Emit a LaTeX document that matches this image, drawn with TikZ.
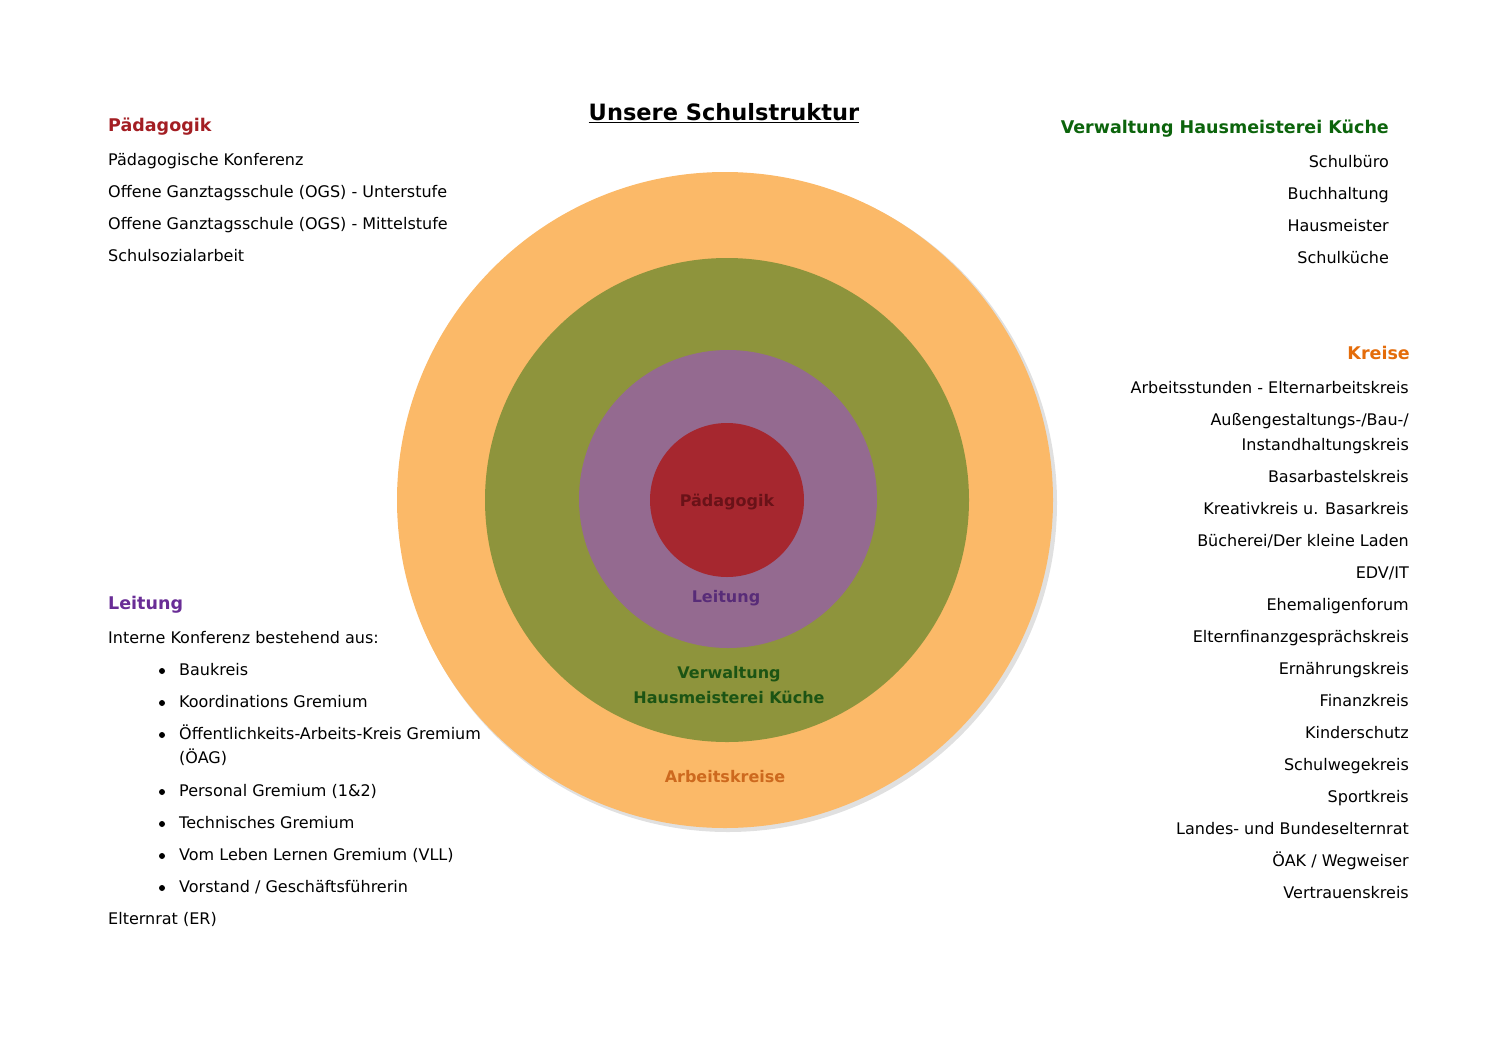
\documentclass[tikz,border=0pt]{standalone}
\usepackage{fontspec}
\setmainfont{DejaVu Sans}
\definecolor{ringorange}{RGB}{251,185,104}
\definecolor{ringgreen}{RGB}{142,148,60}
\definecolor{ringpurple}{RGB}{148,106,144}
\definecolor{ringred}{RGB}{166,39,47}
\definecolor{headred}{RGB}{163,30,35}
\definecolor{headgreen}{RGB}{12,100,12}
\definecolor{headorange}{RGB}{228,108,10}
\definecolor{headpurple}{RGB}{105,45,150}
\definecolor{lblred}{RGB}{105,18,24}
\definecolor{lblpurple}{RGB}{88,44,120}
\definecolor{lblgreen}{RGB}{28,84,20}
\definecolor{lblorange}{RGB}{205,105,30}
\tikzset{
  item/.style={font=\fontsize{16}{19}\selectfont,inner sep=0pt,text height=15pt,text depth=2pt},
  head/.style={font=\fontsize{17.5}{21}\selectfont\bfseries,inner sep=0pt,text height=15pt,text depth=2pt},
  ringlabel/.style={font=\fontsize{16}{25}\selectfont\bfseries,align=center,inner sep=0pt}
}
\begin{document}
\begin{tikzpicture}[x=1pt,y=-1pt]
\useasboundingbox (0,0) rectangle (1497,1058);
\fill[black!12] (728,503) circle (329);
\fill[ringorange] (725,500) circle (328);
\fill[ringgreen] (727,500) circle (242);
\fill[ringpurple] (728,499) circle (149);
\fill[ringred] (727,500) circle (77);
\node[ringlabel,text=lblred] (rpaed) at (727,502) {Pädagogik};
\node[ringlabel,text=lblpurple] (rleit) at (726,598) {Leitung};
\node[ringlabel,text=lblgreen] (rverw) at (729,685) {Verwaltung\\Hausmeisterei Küche};
\node[ringlabel,text=lblorange] (rkreis) at (725,777) {Arbeitskreise};
\node[font=\fontsize{22.5}{27}\selectfont\bfseries,inner sep=0pt] (titel) at (724,113) {\underline{Unsere Schulstruktur}};
\node[head,anchor=west,text=headred] (hpaed) at (108,125) {Pädagogik};
\foreach \t [count=\i] in {Pädagogische Konferenz,Offene Ganztagsschule (OGS) - Unterstufe,Offene Ganztagsschule (OGS) - Mittelstufe,Schulsozialarbeit}
\node[item,anchor=west] (paed\i) at (108,127+32*\i) {\t};
\node[head,anchor=east,text=headgreen] (hverw) at (1389,127) {Verwaltung Hausmeisterei Küche};
\foreach \t [count=\i] in {Schulbüro,Buchhaltung,Hausmeister,Schulküche}
\node[item,anchor=east] (verw\i) at (1389,129+32*\i) {\t};
\node[head,anchor=east,text=headorange] (hkreis) at (1410,353) {Kreise};
\foreach \y/\t [count=\i] in {387/Arbeitsstunden - Elternarbeitskreis,419/{Außengestaltungs-/Bau-/},444/Instandhaltungskreis,476/Basarbastelskreis,508/Kreativkreis u. Basarkreis,540/{Bücherei/Der kleine Laden},572/{EDV/IT},604/Ehemaligenforum,636/Elternfinanzgesprächskreis,668/Ernährungskreis,700/Finanzkreis,732/Kinderschutz,764/Schulwegekreis,796/Sportkreis,828/Landes- und Bundeselternrat,860/{ÖAK / Wegweiser},892/Vertrauenskreis}
\node[item,anchor=east] (kreis\i) at (1409,\y) {\t};
\node[head,anchor=west,text=headpurple] (hleit) at (108,603) {Leitung};
\node[item,anchor=west] (intern) at (108,637) {Interne Konferenz bestehend aus:};
\foreach \y/\t [count=\i] in {669/Baukreis,701/Koordinations Gremium,733/Öffentlichkeits-Arbeits-Kreis Gremium,790/Personal Gremium (1\&2),822/Technisches Gremium,854/Vom Leben Lernen Gremium (VLL),886/Vorstand {/} Geschäftsführerin}{
\fill (162,\y+2) circle (3);
\node[item,anchor=west] (leit\i) at (179,\y) {\t};
}
\node[item,anchor=west] (oeag) at (179,757) {(ÖAG)};
\node[item,anchor=west] (erat) at (108,918) {Elternrat (ER)};
\end{tikzpicture}
\end{document}
